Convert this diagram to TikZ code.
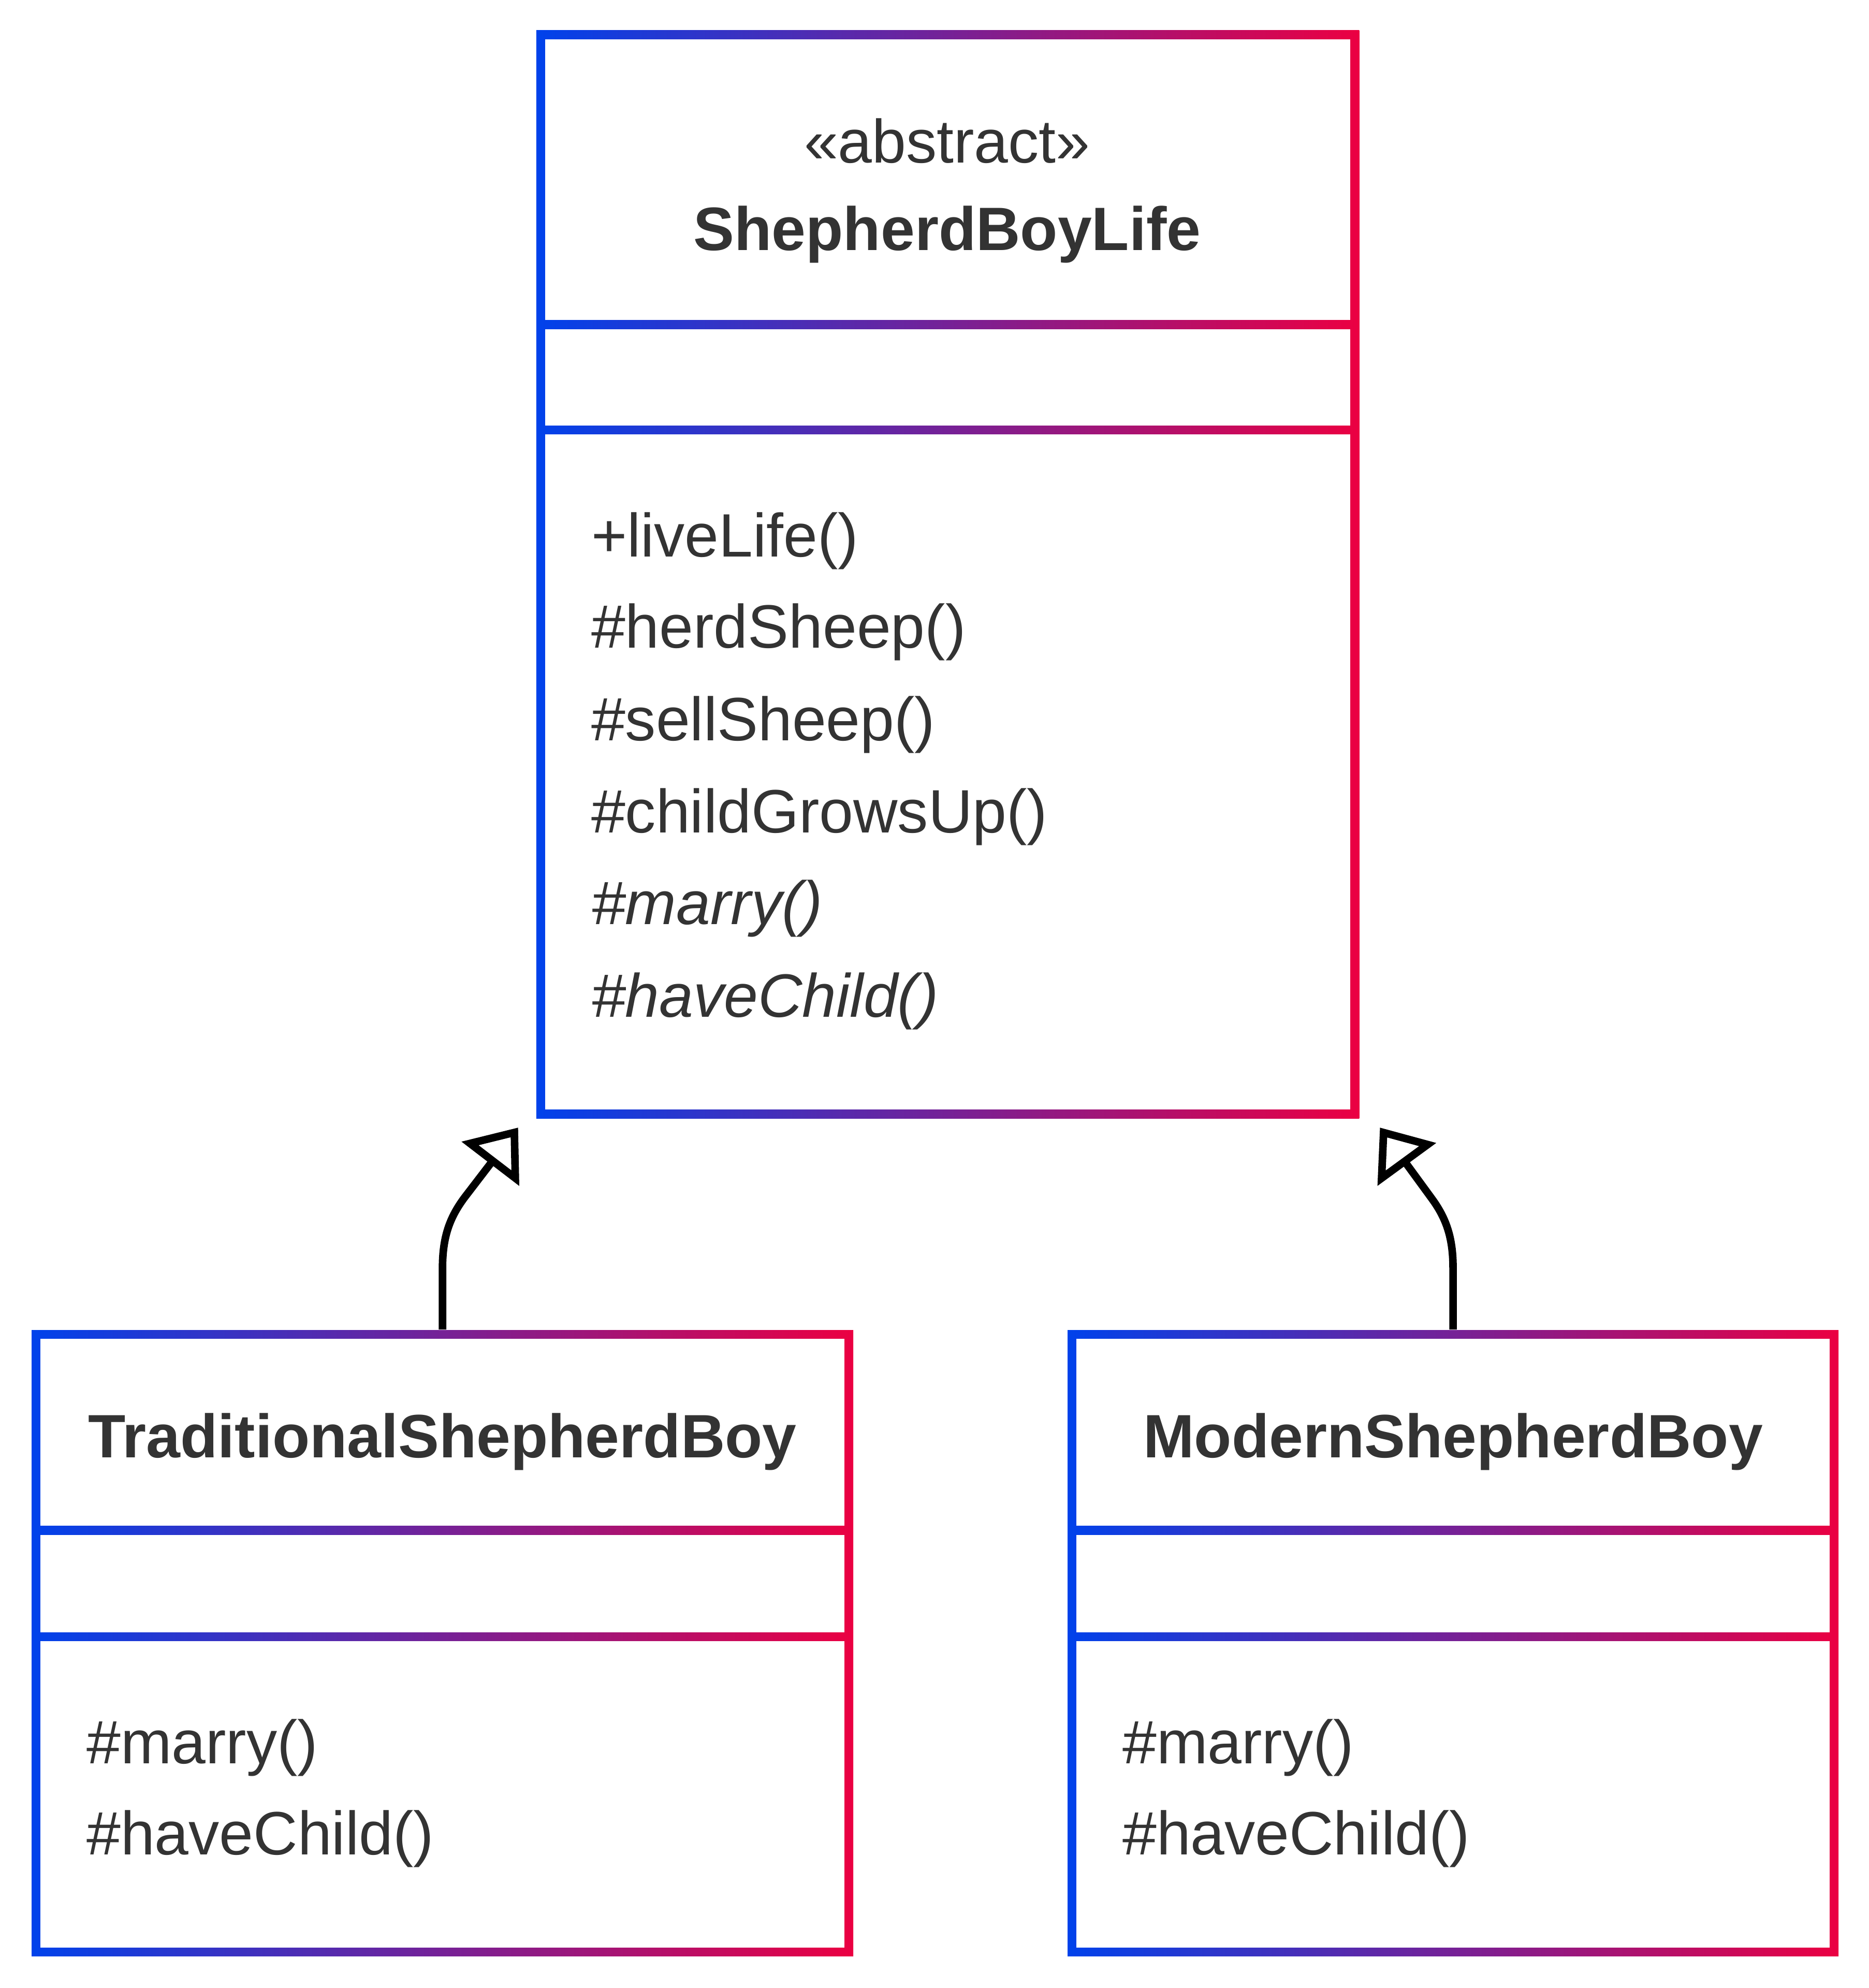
\documentclass[tikz,border=0pt]{standalone}
\usepackage{fontspec}
\setmainfont{Liberation Sans}
\usetikzlibrary{arrows.meta,fit}

\definecolor{gradblue}{HTML}{0042EB}
\definecolor{gradred}{HTML}{EB0042}
\definecolor{textgray}{HTML}{333333}

\tikzset{
  classbox/.style={inner sep=0pt, draw=none, left color=gradblue, right color=gradred},
  compartment/.style={fill=white},
  stereo/.style={text=textgray, font=\fontsize{27.5pt}{32pt}\selectfont},
  classname/.style={text=textgray, font=\fontsize{27.5pt}{32pt}\selectfont\bfseries},
  member/.style={text=textgray, anchor=base west, inner sep=0pt, font=\fontsize{27.5pt}{32pt}\selectfont},
  abstractmember/.style={member, font=\fontsize{27.5pt}{32pt}\selectfont\itshape},
  realizes/.style={line width=3.4pt, -{Triangle[open, length=0.72cm, width=1.12cm]}},
}

\begin{document}
\begin{tikzpicture}[x=0.02cm, y=-0.02cm]
    \useasboundingbox (0,0) rectangle (1474,1568);

    % Abstract class
    \node[classbox, fit={(423,24) (1072,882)}] (life) {};
    \fill[compartment] (430,31) rectangle (1065,252.5);
    \fill[compartment] (430,259.5) rectangle (1065,335.5);
    \fill[compartment] (430,342.5) rectangle (1065,875);

    \node[stereo] (lifestereo) at (747,111) {«abstract»};
    \node[classname] (lifename) at (747,185) {ShepherdBoyLife};

    \node[member] (live) at (466,439) {+liveLife()};
    \node[member] (herd) at (466,511) {\#herdSheep()};
    \node[member] (sell) at (466,584) {\#sellSheep()};
    \node[member] (grow) at (466,657) {\#childGrowsUp()};
    \node[abstractmember] (marry) at (466,729) {\#marry()};
    \node[abstractmember] (child) at (466,802) {\#haveChild()};

    % Traditional subclass
    \node[classbox, fit={(25,1049) (673,1543)}] (trad) {};
    \fill[compartment] (32,1056) rectangle (666,1203.5);
    \fill[compartment] (32,1210.5) rectangle (666,1287.5);
    \fill[compartment] (32,1294.5) rectangle (666,1536);

    \node[classname] (tradname) at (349,1137) {TraditionalShepherdBoy};
    \node[member] (tradmarry) at (68,1391) {\#marry()};
    \node[member] (tradchild) at (68,1463) {\#haveChild()};

    % Modern subclass
    \node[classbox, fit={(842,1049) (1450,1543)}] (modern) {};
    \fill[compartment] (849,1056) rectangle (1443,1203.5);
    \fill[compartment] (849,1210.5) rectangle (1443,1287.5);
    \fill[compartment] (849,1294.5) rectangle (1443,1536);

    \node[classname] (modernname) at (1146,1137) {ModernShepherdBoy};
    \node[member] (modernmarry) at (885,1391) {\#marry()};
    \node[member] (modernchild) at (885,1463) {\#haveChild()};

    % Inheritance
    \coordinate (tipL) at ([shift={(-14,7)}]life.south west);
    \coordinate (tipR) at ([shift={(16,7)}]life.south east);

    \draw[realizes] (trad.north) -- (349,1000) .. controls (349,975) and (355,960) .. (366,945) -- (tipL);
    \draw[realizes] (modern.north) -- (1146,1000) .. controls (1146,975) and (1140,960) .. (1129,945) -- (tipR);
\end{tikzpicture}
\end{document}
